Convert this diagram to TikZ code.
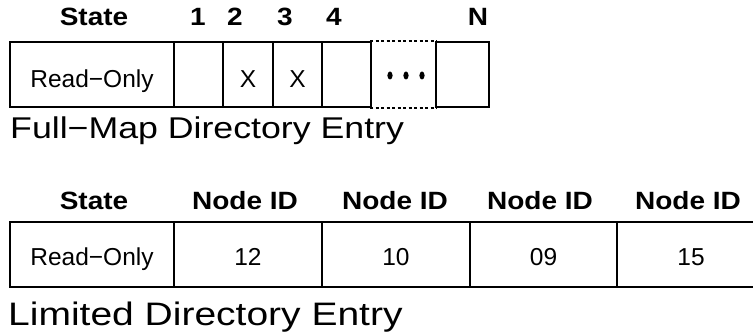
\documentclass[tikz,border=0pt]{standalone}
\usepackage{fontspec}
\setmainfont{Liberation Sans}
\newfontfamily\headfam[FakeStretch=1.12]{Liberation Sans}
\newfontfamily\titlefamA[FakeStretch=1.19]{Liberation Sans}
\newfontfamily\titlefamB[FakeStretch=1.2]{Liberation Sans}
\begin{document}
\begin{tikzpicture}[x=1pt,y=-1pt,
  cellA/.style={draw, line width=1.9pt, inner sep=0pt, minimum height=65pt,
    text height=27pt, text depth=0pt, font=\fontsize{24.5}{24.5}\selectfont},
  cellB/.style={cellA, text height=23pt},
  head/.style={anchor=base, inner sep=0pt, font=\headfam\bfseries\fontsize{25}{25}\selectfont},
  titleA/.style={anchor=base west, inner sep=0pt, font=\titlefamA\fontsize{30}{30}\selectfont},
  titleB/.style={anchor=base west, inner sep=0pt, font=\titlefamB\fontsize{32.5}{32.5}\selectfont},
  dashline/.style={line width=1.9pt, dash pattern=on 3pt off 2.5pt},
  dotmark/.style={fill=black}]
\useasboundingbox (0,0) rectangle (753,336);
\clip (0,0) rectangle (753,336);
% ---------- Full-map directory entry ----------
\node[head] (hs) at (94,26) {State};
\node[head] (h1) at (198,26) {1};
\node[head] (h2) at (235,26) {2};
\node[head] (h3) at (285,26) {3};
\node[head] (h4) at (334,26) {4};
\node[head] (hN) at (478,26) {N};

\node[cellA, minimum width=164pt] (a0) at (92,74.5) {Read−Only};
\node[cellA, minimum width=49pt] (a1) at (198.5,74.5) {};
\node[cellA, minimum width=50pt] (a2) at (248,74.5) {X};
\node[cellA, minimum width=49pt] (a3) at (297.5,74.5) {X};
\node[cellA, minimum width=49pt] (a4) at (346.5,74.5) {};
\node[cellA, draw=none, minimum width=65pt] (ad) at (403.5,74.5) {};
\node[cellA, minimum width=53pt] (aN) at (462.5,74.5) {};
\draw[dashline] (ad.north west) -- (ad.north east);
\draw[dashline] (ad.south west) -- (ad.south east);
\fill[dotmark] (390,75.5) ellipse (2.6pt and 4pt);
\fill[dotmark] (406,75.5) ellipse (2.6pt and 4pt);
\fill[dotmark] (422,75.5) ellipse (2.6pt and 4pt);

\node[titleA] (t1) at (10,138.5) {Full−Map Directory Entry};

% ---------- Limited directory entry ----------
\node[head] (gs) at (94,210) {State};
\node[head] (g1) at (245,210) {Node ID};
\node[head] (g2) at (395,210) {Node ID};
\node[head] (g3) at (540,210) {Node ID};
\node[head] (g4) at (688,210) {Node ID};

\node[cellB, minimum width=164pt] (b0) at (92,254.5) {Read−Only};
\node[cellB, minimum width=148pt] (b1) at (248,254.5) {12};
\node[cellB, minimum width=148pt] (b2) at (396,254.5) {10};
\node[cellB, minimum width=147pt] (b3) at (543.5,254.5) {09};
\node[cellB, minimum width=148pt] (b4) at (691,254.5) {15};

\node[titleB] (t2) at (8,325.5) {Limited Directory Entry};
\end{tikzpicture}
\end{document}
